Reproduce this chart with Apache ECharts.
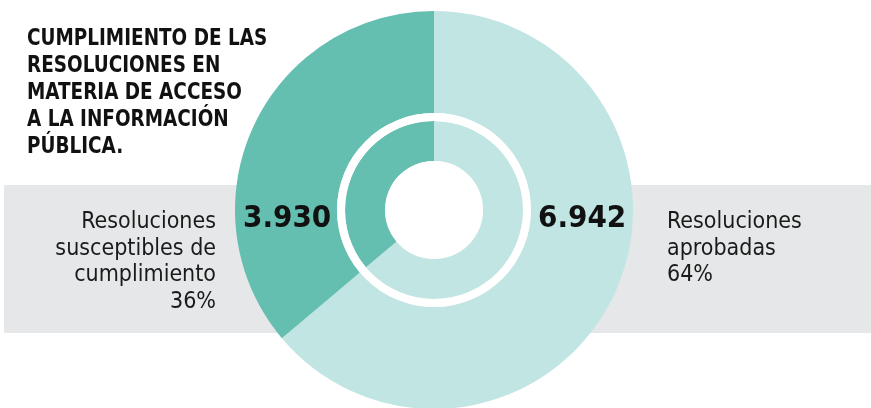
<!DOCTYPE html>
<html><head><meta charset="utf-8">
<script src="https://cdn.jsdelivr.net/npm/echarts@6/dist/echarts.min.js"></script>
<style>html,body{margin:0;padding:0;background:#fff}#c{width:871px;height:408px}</style>
</head><body><div id="c"></div>
<script>
const titleLines = ['CUMPLIMIENTO DE LAS','RESOLUCIONES EN','MATERIA DE ACCESO','A LA INFORMACIÓN','PÚBLICA.'];
const categories = ['Resoluciones aprobadas', 'Resoluciones susceptibles de cumplimiento'];
const values = [6942, 3930];
const percents = ['64%', '36%'];
const colors = ['#c1e5e3', '#65bfb1'];

function fmt(n){ return String(n).replace(/\B(?=(\d{3})+(?!\d))/g, '.'); }

const chart = echarts.init(document.getElementById('c'), null, {renderer:'canvas'});
const data = categories.map((c,i)=>({name:c, value:values[i], itemStyle:{color:colors[i]}}));
const ctr = [434, 210];
const cond = '"DejaVu Sans Condensed", "Liberation Sans Narrow", sans-serif';
const noLab = {label:{show:false}, labelLine:{show:false}, silent:true};
chart.setOption({
  animation:false,
  graphic:[
    {type:'rect', z:-10, shape:{x:4, y:185, width:867, height:148}, style:{fill:'#e6e7e8'}},
    {type:'text', z:100, x:27, y:26, scaleX:0.89, style:{text:titleLines.join('\n'), font:'bold 23px '+cond, lineHeight:27, fill:'#111', verticalAlign:'top'}},
    {type:'text', z:100, x:216, y:209, style:{text:'Resoluciones\nsusceptibles de\ncumplimiento\n'+percents[1], font:'23px '+cond, lineHeight:26.5, fill:'#1a1a1a', align:'right', verticalAlign:'top'}},
    {type:'text', z:100, x:667, y:209, style:{text:'Resoluciones\naprobadas\n'+percents[0], font:'23px '+cond, lineHeight:26.5, fill:'#1a1a1a', verticalAlign:'top'}},
    {type:'text', z:100, x:243, y:203, style:{text:fmt(values[1]), font:'bold 31px '+cond, fill:'#111', verticalAlign:'top'}},
    {type:'text', z:100, x:538, y:203, style:{text:fmt(values[0]), font:'bold 31px '+cond, fill:'#111', verticalAlign:'top'}}
  ],
  series:[
    Object.assign({type:'pie', center:ctr, radius:[97,199], startAngle:90, clockwise:true, data:data}, noLab),
    Object.assign({type:'pie', center:ctr, radius:[49,89], startAngle:90, clockwise:true, data:data}, noLab),
    Object.assign({type:'pie', center:ctr, radius:[89,97], data:[{value:1, itemStyle:{color:'#ffffff'}}]}, noLab),
    Object.assign({type:'pie', center:ctr, radius:[0,49], data:[{value:1, itemStyle:{color:'#ffffff'}}]}, noLab)
  ]
});
</script></body></html>
